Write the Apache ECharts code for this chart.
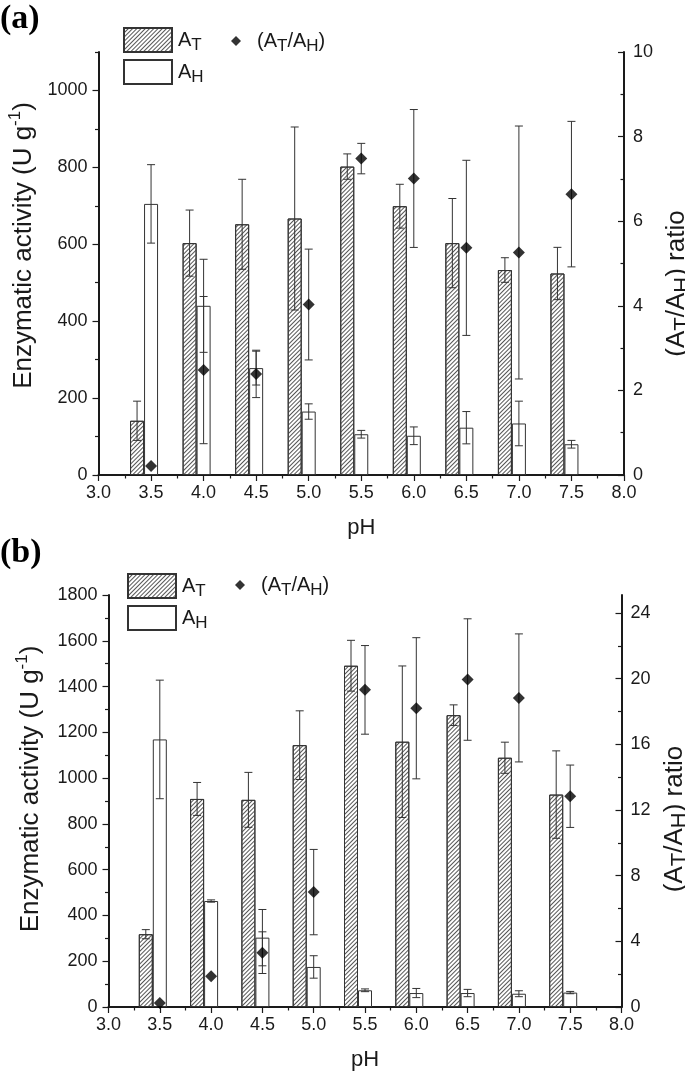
<!DOCTYPE html>
<html>
<head>
<meta charset="utf-8">
<script src="https://cdn.jsdelivr.net/npm/echarts@6.0.0/dist/echarts.min.js"></script>
<style>
html,body{margin:0;padding:0;background:#fff;}
#chart{width:685px;height:1074px;}
</style>
</head>
<body>
<div id="chart"></div>
<script>
// ---------------- data ----------------
const pH = [3.5, 4.0, 4.5, 5.0, 5.5, 6.0, 6.5, 7.0, 7.5];

// panel (a)
const aAT      = [141, 603, 652, 667, 802, 699, 603, 533, 524];
const aATerr   = [51, 86, 117, 238, 33, 57, 116, 32, 68];
const aAH      = [705, 440, 278, 165, 106, 102, 123, 134, 80];
const aAHerr   = [102, 121, 44, 20, 10, 23, 42, 58, 10];
const aRatio   = [0.21, 2.48, 2.39, 4.03, 7.48, 7.01, 5.37, 5.26, 6.64];
const aRatioErr= [0, 1.74, 0.56, 1.31, 0.36, 1.63, 2.07, 2.99, 1.72];

// panel (b)
const bAT      = [318, 909, 905, 1144, 1491, 1159, 1275, 1089, 928];
const bATerr   = [20, 72, 120, 150, 111, 331, 45, 68, 191];
const bAH      = [1169, 463, 303, 175, 73, 61, 61, 58, 63];
const bAHerr   = [259, 5, 123, 49, 6, 20, 16, 13, 5];
const bRatio   = [0.24, 1.87, 3.31, 7.0, 19.32, 18.2, 19.95, 18.83, 12.84];
const bRatioErr= [0, 0, 1.27, 2.6, 2.7, 4.3, 3.7, 3.9, 1.9];

// axes / ticks
const xRange = [3, 8];
const xStep = 0.5;
const aLeftMax = 1100, aRightMax = 10, bLeftMax = 1800, bRightMax = 25.1;
const aLeftMajor  = [0, 200, 400, 600, 800, 1000];
const aLeftMinor  = [100, 300, 500, 700, 900, 1100];
const aRightMajor = [0, 2, 4, 6, 8, 10];
const aRightMinor = [1, 3, 5, 7, 9];
const bLeftMajor  = [0, 200, 400, 600, 800, 1000, 1200, 1400, 1600, 1800];
const bLeftMinor  = [100, 300, 500, 700, 900, 1100, 1300, 1500, 1700];
const bRightMajor = [0, 4, 8, 12, 16, 20, 24];
const bRightMinor = [2, 6, 10, 14, 18, 22];

// ---------------- styling helpers ----------------
const FONT = 'Liberation Sans';
const INK = '#1a1a1a';
const BARW = 14;

const hatch = {
  symbol: 'rect', symbolSize: 1, color: '#555',
  dashArrayX: [1, 0], dashArrayY: [1, 1.9], rotation: -Math.PI / 4
};

const richText = {
  n:   {fontFamily: FONT, fontSize: 20, color: INK, lineHeight: 28},
  s:   {fontFamily: FONT, fontSize: 17, color: INK, lineHeight: 17, verticalAlign: 'bottom'}
};

function legendFmt(name) {
  if (name === 'AT') return '{n|A}{s|T}';
  if (name === 'AH') return '{n|A}{s|H}';
  return '{n|(A}{s|T}{n|/A}{s|H}{n|)}';
}

function errRender(offset) {
  return function (params, api) {
    const x = api.value(0), lo = api.value(1), hi = api.value(2);
    if (hi === lo) return null;
    const top = api.coord([x, hi]);
    const bot = api.coord([x, lo]);
    const cx = top[0] + offset;
    const st = {stroke: '#333', lineWidth: 1};
    return {
      type: 'group',
      children: [
        {type: 'line', shape: {x1: cx, y1: top[1], x2: cx, y2: bot[1]}, style: st},
        {type: 'line', shape: {x1: cx - 4, y1: top[1], x2: cx + 4, y2: top[1]}, style: st},
        {type: 'line', shape: {x1: cx - 4, y1: bot[1], x2: cx + 4, y2: bot[1]}, style: st}
      ]
    };
  };
}

function errData(v, e) {
  return pH.map((x, i) => [x, v[i] - e[i], v[i] + e[i]]);
}
function pts(v) {
  return pH.map((x, i) => [x, v[i]]);
}

function xAxisDef(gridIndex) {
  return {
    type: 'value', gridIndex: gridIndex, min: xRange[0], max: xRange[1], interval: xStep,
    name: 'pH', nameLocation: 'middle', nameGap: 42,
    nameTextStyle: {fontFamily: FONT, fontSize: 22, color: INK},
    axisLine: {show: true, onZero: false, lineStyle: {color: INK, width: 2}},
    axisTick: {show: true, length: 6, lineStyle: {color: INK, width: 1.2}},
    minorTick: {show: true, splitNumber: 2, length: 3.5, lineStyle: {color: INK, width: 1.2}},
    axisLabel: {fontFamily: FONT, fontSize: 18, color: INK, margin: 9,
      formatter: v => v.toFixed(1)},
    splitLine: {show: false}, minorSplitLine: {show: false}
  };
}

function yMain(gridIndex, side, max, majors, name, nameGap, inside, fs, pad) {
  return {
    type: 'value', gridIndex: gridIndex, position: side, min: 0, max: max,
    name: name, nameLocation: 'middle', nameGap: nameGap, nameRotate: 90,
    nameTextStyle: {fontFamily: FONT, fontSize: fs, color: INK, padding: pad, rich: {
      n: {fontFamily: FONT, fontSize: fs, color: INK, lineHeight: fs + 8},
      s: {fontFamily: FONT, fontSize: fs - 4, color: INK, lineHeight: fs - 4, verticalAlign: 'bottom'},
      sup: {fontFamily: FONT, fontSize: fs - 9, color: INK, lineHeight: fs - 9, verticalAlign: 'top'}
    }},
    axisLine: {show: true, onZero: false, lineStyle: {color: INK, width: 2}},
    axisTick: {show: true, inside: !!inside, length: 6, customValues: majors,
      lineStyle: {color: INK, width: 1.2}},
    axisLabel: {fontFamily: FONT, fontSize: 18, color: INK, margin: inside ? 9 : 11,
      customValues: majors, formatter: v => String(v)},
    splitLine: {show: false}
  };
}

function yMinor(gridIndex, side, max, minors, inside) {
  return {
    type: 'value', gridIndex: gridIndex, position: side, min: 0, max: max,
    axisLine: {show: false},
    axisTick: {show: true, inside: !!inside, length: 3.5, customValues: minors,
      lineStyle: {color: INK, width: 1.2}},
    axisLabel: {show: false},
    splitLine: {show: false}
  };
}

function panelSeries(xi, yl, yr, AT, ATe, AH, AHe, R, Re) {
  return [
    {name: 'AT', type: 'bar', xAxisIndex: xi, yAxisIndex: yl, barWidth: BARW, barGap: '0%',
      data: pts(AT), z: 2,
      itemStyle: {color: '#fff', borderColor: '#333', borderWidth: 1, decal: hatch}},
    {name: 'AH', type: 'bar', xAxisIndex: xi, yAxisIndex: yl, barWidth: BARW, barGap: '0%',
      data: pts(AH), z: 2,
      itemStyle: {color: '#fff', borderColor: '#333', borderWidth: 1}},
    {name: 'spacer', type: 'bar', xAxisIndex: xi, yAxisIndex: yl, barWidth: BARW, barGap: '0%',
      data: [], silent: true},
    {name: 'ATerr', type: 'custom', xAxisIndex: xi, yAxisIndex: yl, z: 3,
      renderItem: errRender(-BARW), data: errData(AT, ATe), encode: {x: 0, y: [1, 2]}},
    {name: 'AHerr', type: 'custom', xAxisIndex: xi, yAxisIndex: yl, z: 3,
      renderItem: errRender(0), data: errData(AH, AHe), encode: {x: 0, y: [1, 2]}},
    {name: 'Rerr', type: 'custom', xAxisIndex: xi, yAxisIndex: yr, z: 4,
      renderItem: errRender(0), data: errData(R, Re), encode: {x: 0, y: [1, 2]}},
    {name: 'ratio', type: 'scatter', xAxisIndex: xi, yAxisIndex: yr, z: 5,
      symbol: 'diamond', symbolSize: 12, itemStyle: {color: '#000'}, data: pts(R)}
  ];
}

function legendDef(name, left, top, w, h, icon, padLeft) {
  return {
    data: [{name: name, icon: icon}], left: left, top: top, padding: 0, itemWidth: w, itemHeight: h,
    orient: 'horizontal', selectedMode: false, itemGap: 0,
    formatter: legendFmt,
    textStyle: {fontFamily: FONT, fontSize: 20, color: INK, rich: richText, padding: [0, 0, 0, padLeft]}
  };
}

const leftName = '{n|Enzymatic activity (U g}{sup|-1}{n|)}';
const rightName = '{n|(A}{s|T}{n|/A}{s|H}{n|) ratio}';

const option = {
  animation: false,
  backgroundColor: '#fff',
  title: [
    {text: '(a)', left: 0, top: 2, padding: 0,
      textStyle: {fontFamily: 'Liberation Serif', fontWeight: 'bold', fontSize: 34, color: '#000'}},
    {text: '(b)', left: 0, top: 536, padding: 0,
      textStyle: {fontFamily: 'Liberation Serif', fontWeight: 'bold', fontSize: 34, color: '#000'}}
  ],
  legend: [
    legendDef('AT', 123, 27, 48, 24, 'rect', 1),
    legendDef('AH', 123, 59, 48, 24, 'rect', 1),
    legendDef('ratio', 231, 31, 10, 10, 'diamond', 11),
    legendDef('AT', 127, 573, 48, 24, 'rect', 1),
    legendDef('AH', 127, 605, 48, 24, 'rect', 1),
    legendDef('ratio', 235, 575, 10, 10, 'diamond', 11)
  ],
  grid: [
    {left: 98.5, top: 52, width: 525.5, height: 423, containLabel: false, outerBoundsMode: 'none'},
    {left: 108.5, top: 595, width: 513, height: 412, containLabel: false, outerBoundsMode: 'none'}
  ],
  xAxis: [xAxisDef(0), xAxisDef(1)],
  yAxis: [
    yMain(0, 'left', aLeftMax, aLeftMajor, leftName, 45, false, 26, [0, 0, 0, 36]),
    yMain(0, 'right', aRightMax, aRightMajor, rightName, 16, true, 26, [0, 40, 0, 0]),
    yMinor(0, 'left', aLeftMax, aLeftMinor, false),
    yMinor(0, 'right', aRightMax, aRightMinor, true),
    yMain(1, 'left', bLeftMax, bLeftMajor, leftName, 61, false, 26, [0, 0, 0, 24]),
    yMain(1, 'right', bRightMax, bRightMajor, rightName, 17, true, 26, [0, 36, 0, 0]),
    yMinor(1, 'left', bLeftMax, bLeftMinor, false),
    yMinor(1, 'right', bRightMax, bRightMinor, true)
  ],
  series: [].concat(
    panelSeries(0, 0, 1, aAT, aATerr, aAH, aAHerr, aRatio, aRatioErr),
    panelSeries(1, 4, 5, bAT, bATerr, bAH, bAHerr, bRatio, bRatioErr)
  )
};

const chart = echarts.init(document.getElementById('chart'), null, {renderer: 'canvas'});
chart.setOption(option);
</script>
</body>
</html>
